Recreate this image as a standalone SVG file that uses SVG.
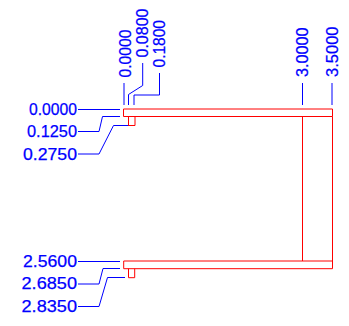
<svg xmlns="http://www.w3.org/2000/svg" width="349" height="326" viewBox="0 0 349 326">
<style>
.d{fill:#0000ff;stroke:#0000ff;stroke-width:.25;font-family:"Liberation Sans",Arial,sans-serif;font-size:17px}
.b{fill:none;stroke:#0000ff;stroke-width:1}
.r{fill:none;stroke:#ff0000;stroke-width:1}
</style>
<rect width="349" height="326" fill="#fff"/>
<g id="connectors">
<path class="b" d="M78 109.500H120M78 131.500H99L102.500 116.500H120M78 154H99L113.500 125.500H130"/>
<path class="b" d="M78 261.500H120M78 284H99L103 268.500H120M78 306.500H99L107.500 277.500H125"/>
<path class="b" d="M124 83V105M142.700 63V85.500L128.500 94.500V105M159.500 73V95H134V105M302.500 83V105M332 83V105"/>
</g>
<g id="part">
<path class="r" d="M123.500 109H332.500V116.500H123.500ZM128.500 116.500V125.500H135V116.500M302.500 116.500V261M332.500 116.500V261M123.700 261H332.500V268.700H123.700ZM128.500 268.700V277.700H134.700V268.700"/>
</g>
<g id="labels">
<text class="d" x="29" y="115" textLength="48" lengthAdjust="spacingAndGlyphs">0.0000</text>
<text class="d" x="27" y="137.300" textLength="50" lengthAdjust="spacingAndGlyphs">0.1250</text>
<text class="d" x="23" y="160" textLength="54" lengthAdjust="spacingAndGlyphs">0.2750</text>
<text class="d" x="23" y="267" textLength="54" lengthAdjust="spacingAndGlyphs">2.5600</text>
<text class="d" x="21.500" y="289.300" textLength="55.500" lengthAdjust="spacingAndGlyphs">2.6850</text>
<text class="d" x="21.500" y="311.700" textLength="55.500" lengthAdjust="spacingAndGlyphs">2.8350</text>
<text class="d" transform="translate(130.500 77.500) rotate(-90)" textLength="48" lengthAdjust="spacingAndGlyphs">0.0000</text>
<text class="d" transform="translate(148 57.500) rotate(-90)" textLength="49" lengthAdjust="spacingAndGlyphs">0.0800</text>
<text class="d" transform="translate(165 67.500) rotate(-90)" textLength="47.500" lengthAdjust="spacingAndGlyphs">0.1800</text>
<text class="d" transform="translate(308 77) rotate(-90)" textLength="49.500" lengthAdjust="spacingAndGlyphs">3.0000</text>
<text class="d" transform="translate(338 77) rotate(-90)" textLength="50.500" lengthAdjust="spacingAndGlyphs">3.5000</text>
</g>
</svg>
